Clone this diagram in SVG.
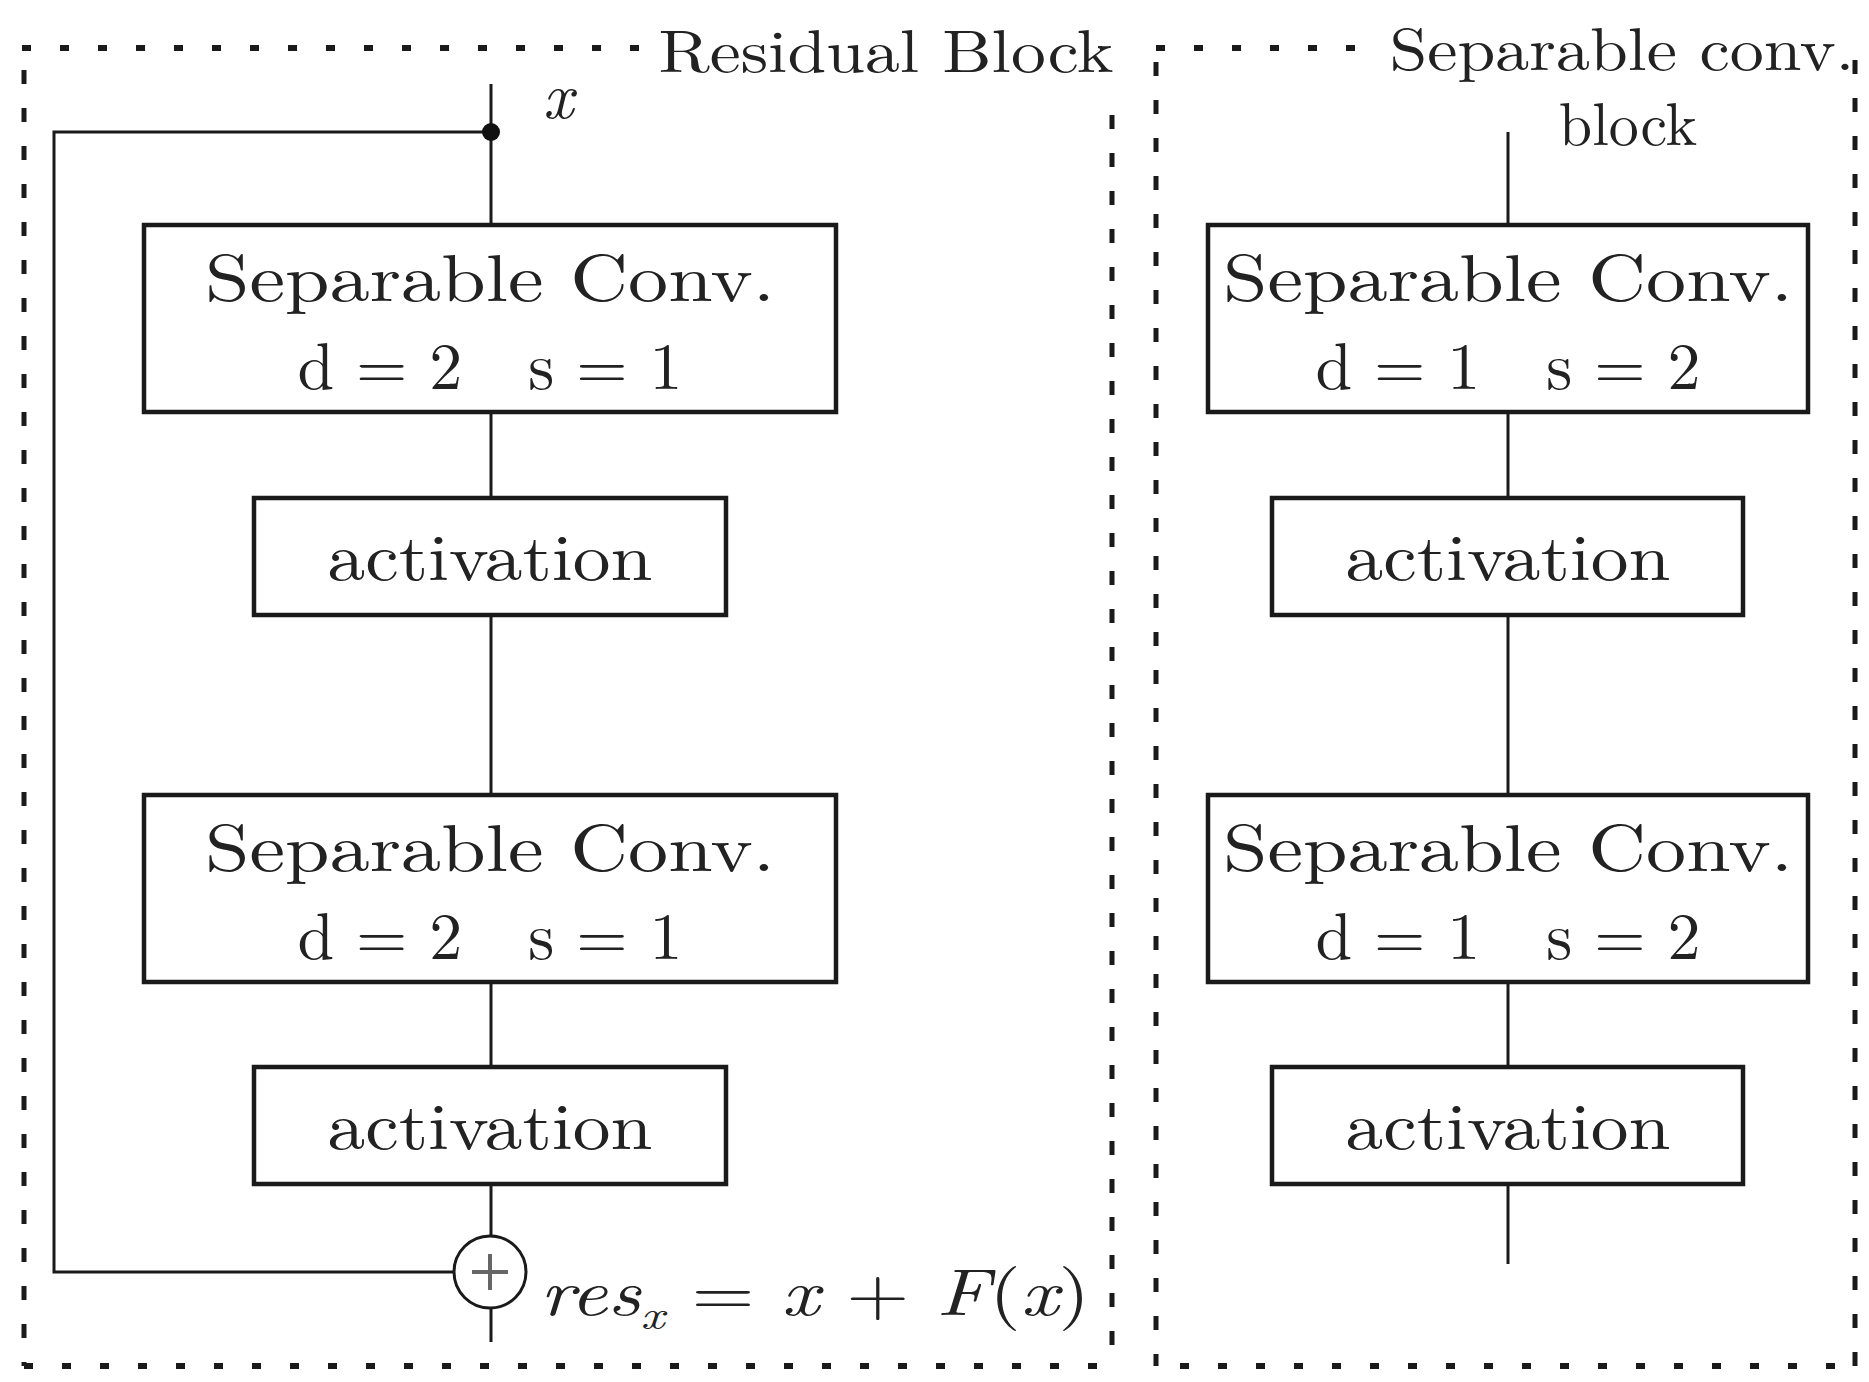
<svg xmlns="http://www.w3.org/2000/svg" width="1869" height="1382" viewBox="0 0 1869 1382">
<style>
.bx{fill:#fff;stroke:#1a1a1a;stroke-width:4.5}
.ln{stroke:#1a1a1a;stroke-width:3;fill:none}
.dh{stroke:#1a1a1a;stroke-width:6;stroke-dasharray:9 29;fill:none}
.dv{stroke:#1a1a1a;stroke-width:5;stroke-dasharray:14 24;fill:none}
text{font-family:"Latin Modern Roman","DejaVu Serif","Liberation Serif",serif;fill:#222;text-anchor:middle}
.t{font-size:66px}
.m{font-style:italic;font-size:66px}
</style>
<rect width="1869" height="1382" fill="#fff"/>
<g id="frames">
<path class="dh" d="M22 48H645 M1156 48H1370 M24 1366H1110 M1180 1366H1856"/>
<path class="dv" d="M24 70V1366 M1112 115V1366 M1156 62V1366 M1855 60V1366"/>
<text x="886" y="72" style="font-size:60px" textLength="455" lengthAdjust="spacingAndGlyphs">Residual Block</text>
<text x="1622" y="70" style="font-size:60px" textLength="465" lengthAdjust="spacingAndGlyphs">Separable conv.</text>
<text x="1628" y="145" style="font-size:60px">block</text>
</g>
<g id="connectors">
<path class="ln" d="M491 84V225 M491 412V498 M491 615V795 M491 982V1067 M491 1184V1236 M491 1308V1342"/>
<path class="ln" d="M491 132H54V1272H454"/>
<circle cx="491" cy="132" r="9" fill="#111"/>
<path class="ln" d="M1508 132V225 M1508 412V498 M1508 615V795 M1508 982V1067 M1508 1184V1264"/>
</g>
<text class="m" x="558" y="118">x</text>
<g id="sc1"><rect class="bx" x="144" y="225" width="692" height="187"/>
<text class="t" x="490" y="301" textLength="570" lengthAdjust="spacingAndGlyphs">Separable Conv.</text>
<text class="t" x="490" y="389" xml:space="preserve">d = 2   s = 1</text></g>
<g id="act1"><rect class="bx" x="254" y="498" width="472" height="117"/>
<text class="t" x="490" y="580" textLength="325" lengthAdjust="spacingAndGlyphs">activation</text></g>
<g id="sc2"><rect class="bx" x="144" y="795" width="692" height="187"/>
<text class="t" x="490" y="871" textLength="570" lengthAdjust="spacingAndGlyphs">Separable Conv.</text>
<text class="t" x="490" y="959" xml:space="preserve">d = 2   s = 1</text></g>
<g id="act2"><rect class="bx" x="254" y="1067" width="472" height="117"/>
<text class="t" x="490" y="1149" textLength="325" lengthAdjust="spacingAndGlyphs">activation</text></g>
<g id="sum"><circle cx="490" cy="1272" r="36" fill="#fff" stroke="#1a1a1a" stroke-width="3"/>
<path d="M490 1254V1290M472 1272H508" stroke="#666" stroke-width="4"/>
<text x="540" y="1315" style="font-size:66px;text-anchor:start" textLength="550" lengthAdjust="spacingAndGlyphs"><tspan font-style="italic">res</tspan><tspan font-style="italic" font-size="42" dy="14">x</tspan><tspan dy="-14"> = </tspan><tspan font-style="italic">x</tspan><tspan> + </tspan><tspan font-style="italic">F</tspan><tspan>(</tspan><tspan font-style="italic">x</tspan><tspan>)</tspan></text></g>
<g id="sc3"><rect class="bx" x="1208" y="225" width="600" height="187"/>
<text class="t" x="1508" y="301" textLength="570" lengthAdjust="spacingAndGlyphs">Separable Conv.</text>
<text class="t" x="1508" y="389" xml:space="preserve">d = 1   s = 2</text></g>
<g id="act3"><rect class="bx" x="1272" y="498" width="471" height="117"/>
<text class="t" x="1508" y="580" textLength="325" lengthAdjust="spacingAndGlyphs">activation</text></g>
<g id="sc4"><rect class="bx" x="1208" y="795" width="600" height="187"/>
<text class="t" x="1508" y="871" textLength="570" lengthAdjust="spacingAndGlyphs">Separable Conv.</text>
<text class="t" x="1508" y="959" xml:space="preserve">d = 1   s = 2</text></g>
<g id="act4"><rect class="bx" x="1272" y="1067" width="471" height="117"/>
<text class="t" x="1508" y="1149" textLength="325" lengthAdjust="spacingAndGlyphs">activation</text></g>
</svg>
